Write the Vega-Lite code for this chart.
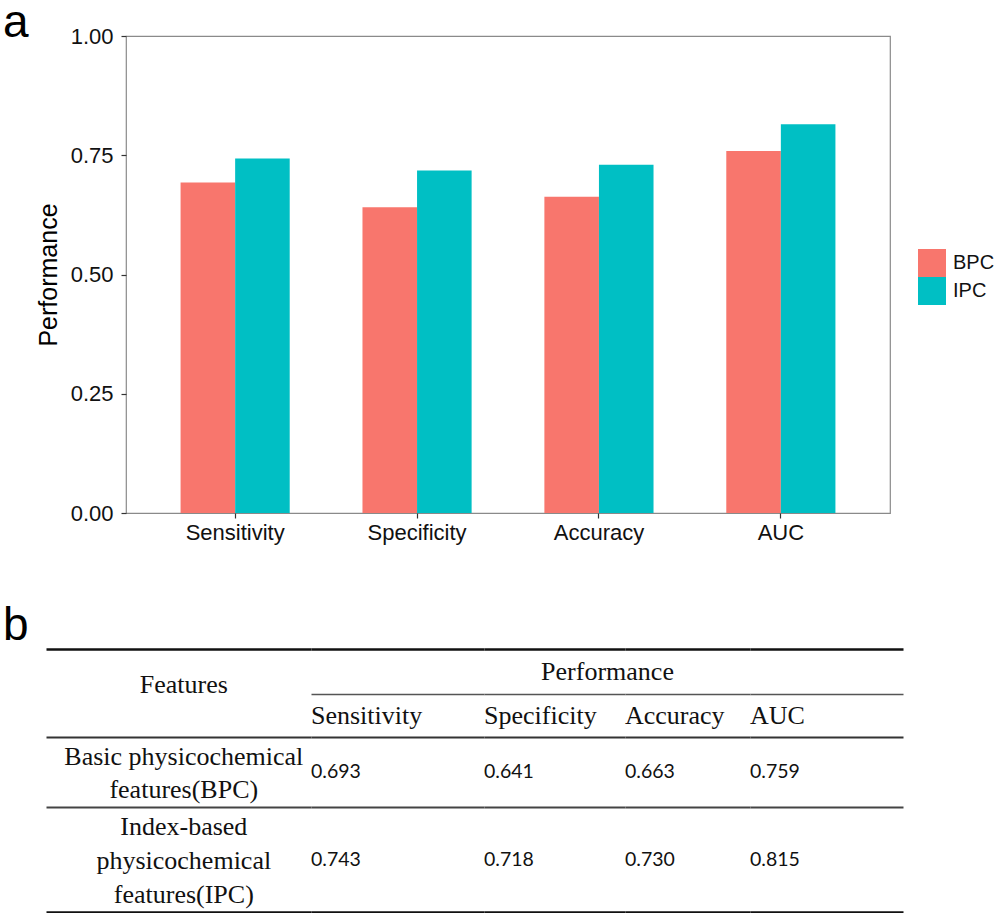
{
  "$schema": "https://vega.github.io/schema/vega-lite/v6.json",
  "padding": {"left": 3, "top": 0, "right": 0, "bottom": 0},
  "background": "white",
  "config": {"view": {"stroke": null}},
  "title": {"text": "a", "font": "Liberation Sans", "fontSize": 46, "fontWeight": "normal", "anchor": "start", "frame": "bounds", "offset": -23, "color": "#000"},
  "datasets": {
    "perf": [
      {"metric": "Sensitivity", "feature": "BPC", "value": 0.693},
      {"metric": "Sensitivity", "feature": "IPC", "value": 0.743},
      {"metric": "Specificity", "feature": "BPC", "value": 0.641},
      {"metric": "Specificity", "feature": "IPC", "value": 0.718},
      {"metric": "Accuracy", "feature": "BPC", "value": 0.663},
      {"metric": "Accuracy", "feature": "IPC", "value": 0.730},
      {"metric": "AUC", "feature": "BPC", "value": 0.759},
      {"metric": "AUC", "feature": "IPC", "value": 0.815}
    ],
    "features": [
      {"feature": "BPC", "name": "Basic physicochemical\nfeatures(BPC)"},
      {"feature": "IPC", "name": "Index-based\nphysicochemical\nfeatures(IPC)"}
    ],
    "headers": [{"group": "Features"}, {"group": "Performance"}]
  },
  "spacing": 59,
  "vconcat": [
    {
      "spacing": -12,
      "hconcat": [
        {
          "width": 1, "height": 477,
          "data": {"name": "headers"},
          "transform": [{"filter": "datum.group === 'Features'"}],
          "mark": {"type": "text"},
          "encoding": {"text": {"value": ""}}
        },
        {
          "width": 764,
          "height": 477,
          "view": {"stroke": "#8a8a8a", "strokeWidth": 1.2},
          "data": {"name": "perf"},
          "mark": {"type": "bar"},
          "encoding": {
            "x": {
              "field": "metric", "type": "nominal",
              "sort": ["Sensitivity", "Specificity", "Accuracy", "AUC"],
              "scale": {"paddingInner": 0.4, "paddingOuter": 0.3},
              "axis": {"title": null, "labelAngle": 0, "labelFont": "Liberation Sans", "labelFontSize": 22, "labelColor": "#111", "labelPadding": 4, "tickSize": 5, "tickColor": "#333", "tickWidth": 1.2, "domain": false, "grid": false}
            },
            "xOffset": {"field": "feature", "type": "nominal", "sort": ["BPC", "IPC"]},
            "y": {
              "field": "value", "type": "quantitative",
              "scale": {"domain": [0, 1], "nice": false, "zero": true},
              "axis": {"title": "Performance", "values": [0, 0.25, 0.5, 0.75, 1], "format": ".2f", "labelFont": "Liberation Sans", "labelFontSize": 22, "labelColor": "#111", "labelPadding": 8, "tickSize": 5, "tickColor": "#333", "tickWidth": 1.2, "domain": false, "grid": false, "titleFont": "Liberation Sans", "titleFontSize": 25, "titleFontWeight": "normal", "titleColor": "#000", "titlePadding": 9}
            },
            "color": {
              "field": "feature", "type": "nominal",
              "scale": {"domain": ["BPC", "IPC"], "range": ["#F8766D", "#00BFC4"]},
              "legend": {"title": null, "orient": "none", "legendX": 872, "legendY": 213, "symbolType": "square", "symbolSize": 784, "symbolStrokeWidth": 0, "symbolOpacity": 1, "labelFont": "Liberation Sans", "labelFontSize": 20, "labelColor": "#111", "labelOffset": 7, "rowPadding": 0, "padding": 0}
            }
          }
        }
      ]
    },
    {
      "title": {"text": "b", "font": "Liberation Sans", "fontSize": 46, "fontWeight": "normal", "anchor": "start", "frame": "group", "dx": -43, "offset": -1, "color": "#000"},
      "columns": 5,
      "align": "each",
      "spacing": 0,
      "bounds": "flush",
      "concat": [
        {
          "width": 265, "height": 45,
          "data": {"name": "headers"},
          "transform": [{"filter": "datum.group === 'Features'"}],
          "mark": {"type": "text", "font": "Liberation Serif", "fontSize": 26, "baseline": "top", "color": "#111"},
          "encoding": {
            "x": {"field": "group", "type": "nominal", "scale": {"type": "point", "padding": 0, "align": 0.52}, "axis": {"orient": "top", "title": null, "labels": false, "ticks": false, "grid": false, "domainColor": "#111", "domainWidth": 2.5}},
            "text": {"field": "group"}
          }
        },
        {
          "width": 173, "height": 45,
          "data": {"name": "perf"},
          "transform": [{"filter": "datum.metric === 'Sensitivity' && datum.feature === 'BPC'"}],
          "mark": {"type": "text"},
          "encoding": {
            "x": {"field": "metric", "type": "nominal", "scale": {"type": "point", "padding": 0, "align": 0}, "axis": {"orient": "top", "title": null, "labels": false, "ticks": false, "grid": false, "domainColor": "#111", "domainWidth": 2.5}},
            "text": {"value": ""}
          }
        },
        {
          "width": 141, "height": 45,
          "data": {"name": "headers"},
          "transform": [{"filter": "datum.group === 'Performance'"}],
          "mark": {"type": "text", "font": "Liberation Serif", "fontSize": 26, "color": "#111"},
          "encoding": {
            "x": {"field": "group", "type": "nominal", "scale": {"type": "point", "padding": 0, "align": 0.876}, "axis": {"orient": "top", "title": null, "labels": false, "ticks": false, "grid": false, "domainColor": "#111", "domainWidth": 2.5}},
            "text": {"field": "group"}
          }
        },
        {
          "width": 125, "height": 45,
          "data": {"name": "perf"},
          "transform": [{"filter": "datum.metric === 'Accuracy' && datum.feature === 'BPC'"}],
          "mark": {"type": "text"},
          "encoding": {
            "x": {"field": "metric", "type": "nominal", "scale": {"type": "point", "padding": 0, "align": 0}, "axis": {"orient": "top", "title": null, "labels": false, "ticks": false, "grid": false, "domainColor": "#111", "domainWidth": 2.5}},
            "text": {"value": ""}
          }
        },
        {
          "width": 153, "height": 45,
          "data": {"name": "perf"},
          "transform": [{"filter": "datum.metric === 'AUC' && datum.feature === 'BPC'"}],
          "mark": {"type": "text"},
          "encoding": {
            "x": {"field": "metric", "type": "nominal", "scale": {"type": "point", "padding": 0, "align": 0}, "axis": {"orient": "top", "title": null, "labels": false, "ticks": false, "grid": false, "domainColor": "#111", "domainWidth": 2.5}},
            "text": {"value": ""}
          }
        },
        {
          "width": 265, "height": 43,
          "data": {"name": "headers"},
          "transform": [{"filter": "datum.group === 'Features'"}],
          "mark": {"type": "text"},
          "encoding": {"text": {"value": ""}}
        },
        {
          "width": 173, "height": 43,
          "data": {"name": "perf"},
          "transform": [{"filter": "datum.metric === 'Sensitivity' && datum.feature === 'BPC'"}],
          "mark": {"type": "text", "font": "Liberation Serif", "fontSize": 26, "align": "left", "color": "#111"},
          "encoding": {
            "x": {"field": "metric", "type": "nominal", "scale": {"type": "point", "padding": 0, "align": 0}, "axis": {"orient": "top", "title": null, "labels": false, "ticks": false, "grid": false, "domainColor": "#555", "domainWidth": 1.4}},
            "text": {"field": "metric"}
          }
        },
        {
          "width": 141, "height": 43,
          "data": {"name": "perf"},
          "transform": [{"filter": "datum.metric === 'Specificity' && datum.feature === 'BPC'"}],
          "mark": {"type": "text", "font": "Liberation Serif", "fontSize": 26, "align": "left", "color": "#111"},
          "encoding": {
            "x": {"field": "metric", "type": "nominal", "scale": {"type": "point", "padding": 0, "align": 0}, "axis": {"orient": "top", "title": null, "labels": false, "ticks": false, "grid": false, "domainColor": "#555", "domainWidth": 1.4}},
            "text": {"field": "metric"}
          }
        },
        {
          "width": 125, "height": 43,
          "data": {"name": "perf"},
          "transform": [{"filter": "datum.metric === 'Accuracy' && datum.feature === 'BPC'"}],
          "mark": {"type": "text", "font": "Liberation Serif", "fontSize": 26, "align": "left", "color": "#111"},
          "encoding": {
            "x": {"field": "metric", "type": "nominal", "scale": {"type": "point", "padding": 0, "align": 0}, "axis": {"orient": "top", "title": null, "labels": false, "ticks": false, "grid": false, "domainColor": "#555", "domainWidth": 1.4}},
            "text": {"field": "metric"}
          }
        },
        {
          "width": 153, "height": 43,
          "data": {"name": "perf"},
          "transform": [{"filter": "datum.metric === 'AUC' && datum.feature === 'BPC'"}],
          "mark": {"type": "text", "font": "Liberation Serif", "fontSize": 26, "align": "left", "color": "#111"},
          "encoding": {
            "x": {"field": "metric", "type": "nominal", "scale": {"type": "point", "padding": 0, "align": 0}, "axis": {"orient": "top", "title": null, "labels": false, "ticks": false, "grid": false, "domainColor": "#555", "domainWidth": 1.4}},
            "text": {"field": "metric"}
          }
        },
        {
          "width": 265, "height": 70,
          "data": {"name": "features"},
          "transform": [{"filter": "datum.feature === 'BPC'"}],
          "mark": {"type": "text", "font": "Liberation Serif", "fontSize": 26, "lineBreak": "\n", "lineHeight": 33, "color": "#111"},
          "encoding": {
            "x": {"field": "feature", "type": "nominal", "scale": {"type": "point", "padding": 0, "align": 0.52}, "axis": {"orient": "top", "title": null, "labels": false, "ticks": false, "grid": false, "domainColor": "#333", "domainWidth": 2}},
            "y": {"field": "feature", "type": "nominal", "scale": {"type": "point", "padding": 0, "align": 0.286}, "axis": null},
            "text": {"field": "name"}
          }
        },
        {
          "width": 173, "height": 70,
          "data": {"name": "perf"},
          "transform": [{"filter": "datum.metric === 'Sensitivity' && datum.feature === 'BPC'"}],
          "mark": {"type": "text", "font": "Lato", "fontSize": 19.5, "align": "left", "color": "#111"},
          "encoding": {
            "x": {"field": "metric", "type": "nominal", "scale": {"type": "point", "padding": 0, "align": 0}, "axis": {"orient": "top", "title": null, "labels": false, "ticks": false, "grid": false, "domainColor": "#333", "domainWidth": 2}},
            "text": {"field": "value", "type": "quantitative", "format": ".3f"}
          }
        },
        {
          "width": 141, "height": 70,
          "data": {"name": "perf"},
          "transform": [{"filter": "datum.metric === 'Specificity' && datum.feature === 'BPC'"}],
          "mark": {"type": "text", "font": "Lato", "fontSize": 19.5, "align": "left", "color": "#111"},
          "encoding": {
            "x": {"field": "metric", "type": "nominal", "scale": {"type": "point", "padding": 0, "align": 0}, "axis": {"orient": "top", "title": null, "labels": false, "ticks": false, "grid": false, "domainColor": "#333", "domainWidth": 2}},
            "text": {"field": "value", "type": "quantitative", "format": ".3f"}
          }
        },
        {
          "width": 125, "height": 70,
          "data": {"name": "perf"},
          "transform": [{"filter": "datum.metric === 'Accuracy' && datum.feature === 'BPC'"}],
          "mark": {"type": "text", "font": "Lato", "fontSize": 19.5, "align": "left", "color": "#111"},
          "encoding": {
            "x": {"field": "metric", "type": "nominal", "scale": {"type": "point", "padding": 0, "align": 0}, "axis": {"orient": "top", "title": null, "labels": false, "ticks": false, "grid": false, "domainColor": "#333", "domainWidth": 2}},
            "text": {"field": "value", "type": "quantitative", "format": ".3f"}
          }
        },
        {
          "width": 153, "height": 70,
          "data": {"name": "perf"},
          "transform": [{"filter": "datum.metric === 'AUC' && datum.feature === 'BPC'"}],
          "mark": {"type": "text", "font": "Lato", "fontSize": 19.5, "align": "left", "color": "#111"},
          "encoding": {
            "x": {"field": "metric", "type": "nominal", "scale": {"type": "point", "padding": 0, "align": 0}, "axis": {"orient": "top", "title": null, "labels": false, "ticks": false, "grid": false, "domainColor": "#333", "domainWidth": 2}},
            "text": {"field": "value", "type": "quantitative", "format": ".3f"}
          }
        },
        {
          "width": 265, "height": 105,
          "data": {"name": "features"},
          "transform": [{"filter": "datum.feature === 'IPC'"}],
          "mark": {"type": "text", "font": "Liberation Serif", "fontSize": 26, "lineBreak": "\n", "lineHeight": 34, "color": "#111"},
          "encoding": {
            "x": {"field": "feature", "type": "nominal", "scale": {"type": "point", "padding": 0, "align": 0.52}, "axis": {"orient": "top", "title": null, "labels": false, "ticks": false, "grid": false, "domainColor": "#444", "domainWidth": 2}},
            "y": {"field": "feature", "type": "nominal", "scale": {"type": "point", "padding": 0, "align": 0.19}, "axis": null},
            "text": {"field": "name"}
          }
        },
        {
          "width": 173, "height": 105,
          "data": {"name": "perf"},
          "transform": [{"filter": "datum.metric === 'Sensitivity' && datum.feature === 'IPC'"}],
          "mark": {"type": "text", "font": "Lato", "fontSize": 19.5, "align": "left", "color": "#111"},
          "encoding": {
            "x": {"field": "metric", "type": "nominal", "scale": {"type": "point", "padding": 0, "align": 0}, "axis": {"orient": "top", "title": null, "labels": false, "ticks": false, "grid": false, "domainColor": "#444", "domainWidth": 2}},
            "text": {"field": "value", "type": "quantitative", "format": ".3f"}
          }
        },
        {
          "width": 141, "height": 105,
          "data": {"name": "perf"},
          "transform": [{"filter": "datum.metric === 'Specificity' && datum.feature === 'IPC'"}],
          "mark": {"type": "text", "font": "Lato", "fontSize": 19.5, "align": "left", "color": "#111"},
          "encoding": {
            "x": {"field": "metric", "type": "nominal", "scale": {"type": "point", "padding": 0, "align": 0}, "axis": {"orient": "top", "title": null, "labels": false, "ticks": false, "grid": false, "domainColor": "#444", "domainWidth": 2}},
            "text": {"field": "value", "type": "quantitative", "format": ".3f"}
          }
        },
        {
          "width": 125, "height": 105,
          "data": {"name": "perf"},
          "transform": [{"filter": "datum.metric === 'Accuracy' && datum.feature === 'IPC'"}],
          "mark": {"type": "text", "font": "Lato", "fontSize": 19.5, "align": "left", "color": "#111"},
          "encoding": {
            "x": {"field": "metric", "type": "nominal", "scale": {"type": "point", "padding": 0, "align": 0}, "axis": {"orient": "top", "title": null, "labels": false, "ticks": false, "grid": false, "domainColor": "#444", "domainWidth": 2}},
            "text": {"field": "value", "type": "quantitative", "format": ".3f"}
          }
        },
        {
          "width": 153, "height": 105,
          "data": {"name": "perf"},
          "transform": [{"filter": "datum.metric === 'AUC' && datum.feature === 'IPC'"}],
          "mark": {"type": "text", "font": "Lato", "fontSize": 19.5, "align": "left", "color": "#111"},
          "encoding": {
            "x": {"field": "metric", "type": "nominal", "scale": {"type": "point", "padding": 0, "align": 0}, "axis": {"orient": "top", "title": null, "labels": false, "ticks": false, "grid": false, "domainColor": "#444", "domainWidth": 2}},
            "text": {"field": "value", "type": "quantitative", "format": ".3f"}
          }
        },
        {
          "width": 265, "height": 1,
          "data": {"name": "headers"},
          "transform": [{"filter": "datum.group === 'Features'"}],
          "mark": {"type": "text"},
          "encoding": {
            "x": {"field": "group", "type": "nominal", "scale": {"type": "point", "padding": 0}, "axis": {"orient": "top", "title": null, "labels": false, "ticks": false, "grid": false, "domainColor": "#111", "domainWidth": 2.5}},
            "text": {"value": ""}
          }
        },
        {
          "width": 173, "height": 1,
          "data": {"name": "perf"},
          "transform": [{"filter": "datum.metric === 'Sensitivity' && datum.feature === 'IPC'"}],
          "mark": {"type": "text"},
          "encoding": {
            "x": {"field": "metric", "type": "nominal", "scale": {"type": "point", "padding": 0}, "axis": {"orient": "top", "title": null, "labels": false, "ticks": false, "grid": false, "domainColor": "#111", "domainWidth": 2.5}},
            "text": {"value": ""}
          }
        },
        {
          "width": 141, "height": 1,
          "data": {"name": "perf"},
          "transform": [{"filter": "datum.metric === 'Specificity' && datum.feature === 'IPC'"}],
          "mark": {"type": "text"},
          "encoding": {
            "x": {"field": "metric", "type": "nominal", "scale": {"type": "point", "padding": 0}, "axis": {"orient": "top", "title": null, "labels": false, "ticks": false, "grid": false, "domainColor": "#111", "domainWidth": 2.5}},
            "text": {"value": ""}
          }
        },
        {
          "width": 125, "height": 1,
          "data": {"name": "perf"},
          "transform": [{"filter": "datum.metric === 'Accuracy' && datum.feature === 'IPC'"}],
          "mark": {"type": "text"},
          "encoding": {
            "x": {"field": "metric", "type": "nominal", "scale": {"type": "point", "padding": 0}, "axis": {"orient": "top", "title": null, "labels": false, "ticks": false, "grid": false, "domainColor": "#111", "domainWidth": 2.5}},
            "text": {"value": ""}
          }
        },
        {
          "width": 153, "height": 1,
          "data": {"name": "perf"},
          "transform": [{"filter": "datum.metric === 'AUC' && datum.feature === 'IPC'"}],
          "mark": {"type": "text"},
          "encoding": {
            "x": {"field": "metric", "type": "nominal", "scale": {"type": "point", "padding": 0}, "axis": {"orient": "top", "title": null, "labels": false, "ticks": false, "grid": false, "domainColor": "#111", "domainWidth": 2.5}},
            "text": {"value": ""}
          }
        }
      ]
    }
  ]
}
